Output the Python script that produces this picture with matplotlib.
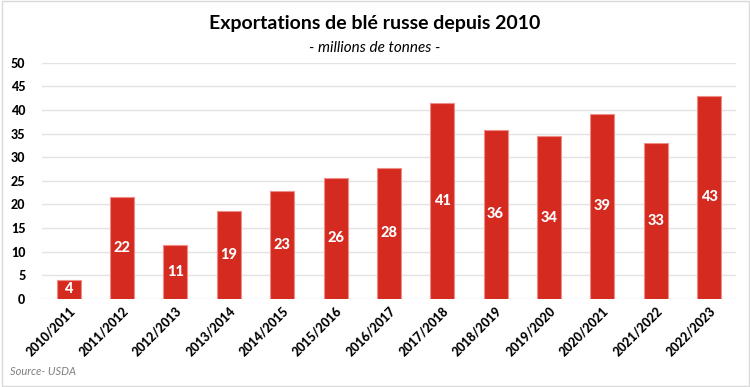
import matplotlib
import matplotlib.pyplot as plt
import numpy as np

matplotlib.use("Agg")

plt.rcParams["font.family"] = ["Lato", "DejaVu Sans"]

campagnes = [
    "2010/2011", "2011/2012", "2012/2013", "2013/2014", "2014/2015",
    "2015/2016", "2016/2017", "2017/2018", "2018/2019", "2019/2020",
    "2020/2021", "2021/2022", "2022/2023",
]
exportations = [4.0, 21.6, 11.3, 18.6, 22.8, 25.6, 27.8, 41.4, 35.8, 34.4, 39.1, 32.9, 43.0]
y_ticks = [0, 5, 10, 15, 20, 25, 30, 35, 40, 45, 50]

RED = "#D52A1F"

fig = plt.figure(figsize=(7.5, 3.87), dpi=100, facecolor="white")
ax = fig.add_axes([0.056, 0.228, 0.925, 0.61])

x = np.arange(len(campagnes))
bars = ax.bar(x, exportations, width=0.45, color=RED, edgecolor="#EE8C86",
              linewidth=0.8, zorder=3)
for b, v in zip(bars, exportations):
    ax.text(b.get_x() + b.get_width() / 2, v / 2, f"{v:.0f}", ha="center",
            va="center", color="white", fontsize=10.5, fontweight="black", zorder=4)

ax.set_xlim(-0.5, len(campagnes) - 0.5)
ax.set_ylim(0, 50)
ax.set_yticks(y_ticks)
ax.set_xticks(x)
ax.set_xticklabels(campagnes, rotation=45, ha="right", rotation_mode="anchor",
                   fontsize=9, fontweight="black")
ax.tick_params(axis="y", labelsize=9, length=0, pad=12)
ax.tick_params(axis="x", length=0, pad=4)
for lbl in ax.get_yticklabels():
    lbl.set_fontweight("black")
ax.grid(axis="y", color="#E3E3E3", linewidth=1, zorder=0)
for s in ax.spines.values():
    s.set_visible(False)

fig.text(0.5, 0.94, "Exportations de blé russe depuis 2010", ha="center",
         va="center", fontsize=14, fontweight="bold")
fig.text(0.5, 0.877, "- millions de tonnes -", ha="center", va="center",
         fontsize=11, style="italic")
fig.text(0.013, 0.04, "Source- USDA", ha="left", va="center", fontsize=8,
         style="italic", color="#7F7F7F")

border = plt.Rectangle((0.002, 0.003), 0.996, 0.994, transform=fig.transFigure,
                       fill=False, edgecolor="#D9D9D9", linewidth=1)
fig.add_artist(border)

fig.savefig("out.png", dpi=100, facecolor="white")
